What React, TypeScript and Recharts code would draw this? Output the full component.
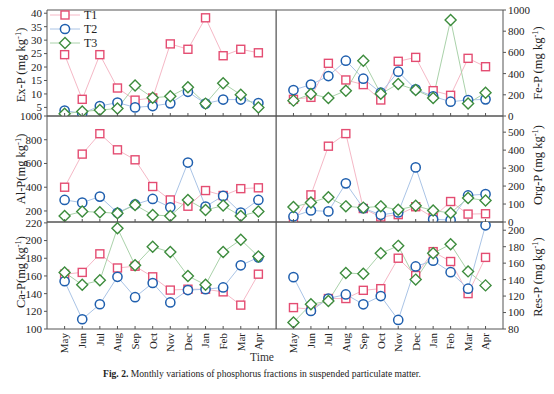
import React from 'react';
import { LineChart, Line, XAxis, YAxis, ReferenceArea } from 'recharts';

const months = ['May', 'Jun', 'Jul', 'Aug', 'Sep', 'Oct', 'Nov', 'Dec', 'Jan', 'Feb', 'Mar', 'Apr'];
const seriesNames = ['T1', 'T2', 'T3'];

const exP_T1 = [24.6, 8.0, 24.6, 12.2, 7.7, 8.5, 28.6, 26.6, 38.3, 24.2, 26.6, 25.3];
const exP_T2 = [3.8, 2.8, 5.5, 6.8, 5.0, 5.5, 6.5, 10.8, 6.4, 7.9, 7.9, 6.6];
const exP_T3 = [2.6, 3.5, 4.0, 4.6, 13.1, 8.6, 9.1, 12.5, 6.4, 14.0, 9.7, 5.0];

const feP_T1 = [157, 176, 497, 340, 296, 151, 516, 553, 239, 195, 544, 465];
const feP_T2 = [245, 296, 377, 522, 352, 220, 418, 252, 185, 135, 151, 157];
const feP_T3 = [145, 208, 170, 239, 522, 210, 302, 245, 170, 906, 119, 220];

const alP_T1 = [400, 679, 851, 715, 631, 406, 293, 240, 372, 330, 388, 395];
const alP_T2 = [293, 270, 321, 185, 255, 301, 231, 608, 237, 327, 186, 293];
const alP_T3 = [158, 195, 190, 180, 251, 166, 158, 293, 208, 245, 158, 196];

const orgP_T1 = [5, 151, 422, 492, 75, 28, 41, 85, 25, 114, 44, 46];
const orgP_T2 = [31, 64, 59, 215, 77, 40, 53, 304, 15, 11, 148, 155];
const orgP_T3 = [83, 109, 138, 87, 80, 87, 68, 90, 64, 50, 133, 120];

const caP_T1 = [162, 164, 185, 169, 171, 159, 144, 145, 145, 142, 127, 162];
const caP_T2 = [154, 111, 128, 159, 136, 152, 130, 144, 145, 147, 172, 181];
const caP_T3 = [164, 150, 155, 214, 172, 193, 187, 160, 150, 187, 201, 182];

const resP_T1 = [106, 104, 117, 117, 127, 129, 166, 145, 174, 162, 123, 167];
const resP_T2 = [143, 102, 117, 122, 110, 120, 91, 156, 163, 149, 129, 206];
const resP_T3 = [88, 110, 114, 148, 147, 172, 181, 140, 172, 183, 150, 133];

const markColor = ['#e44d72', '#1f5fae', '#3d8c3d'];
const lineColor = ['#f5b8c6', '#aac4e6', '#aad2aa'];
const FONT = '"Liberation Serif", "Times New Roman", serif';

const rowTop = [10, 116, 222];
const rowBottom = [116, 222, 329];
const PAD = 8;

const marker = (k: number, cx: number, cy: number, key: string) => {
  const c = markColor[k];
  if (k === 0) return <rect key={key} x={cx - 4} y={cy - 4} width={8} height={8} fill="#fff" stroke={c} strokeWidth={1.4} />;
  if (k === 1) return <circle key={key} cx={cx} cy={cy} r={4.6} fill="#fff" stroke={c} strokeWidth={1.5} />;
  return <path key={key} d={`M${cx},${cy - 5.5}L${cx + 5.5},${cy}L${cx},${cy + 5.5}L${cx - 5.5},${cy}Z`} fill="#fff" stroke={c} strokeWidth={1.4} />;
};

interface PanelProps {
  t1: number[];
  t2: number[];
  t3: number[];
  domain: [number, number];
  ticks: number[];
  side: 'left' | 'right';
  row: number;
}

const Panel = ({ t1, t2, t3, domain, ticks, side, row }: PanelProps) => {
  const data = months.map((m, i) => ({ i, t1: t1[i], t2: t2[i], t3: t3[i] }));
  const isLeft = side === 'left';
  const bottomPad = row === 2 ? 30 : 8;
  const plotH = rowBottom[row] - rowTop[row];
  const width = isLeft ? 280 : 278;
  const height = plotH + PAD + bottomPad;
  const plotBottom = PAD + plotH;

  // inward tick marks, month names only under the last row
  const xTick = (props: any) => {
    const { x, payload, index } = props;
    return (
      <g key={`xt-${index}`}>
        <line x1={x} x2={x} y1={plotBottom} y2={plotBottom - 3} stroke="#555" />
        {row === 2 && (
          <text x={x} y={plotBottom + 4} transform={`rotate(-90, ${x}, ${plotBottom + 4})`} textAnchor="end" dy="0.35em" fontSize={11} fill="#222">
            {months[payload.value]}
          </text>
        )}
      </g>
    );
  };

  return (
    <div style={{ position: 'absolute', left: isLeft ? 0 : 276, top: rowTop[row] - PAD, width, height }}>
      <LineChart width={width} height={height} data={data} margin={{ top: PAD, bottom: 0, left: 0, right: isLeft ? 4 : 0 }}>
        <XAxis dataKey="i" type="number" domain={[-1, 12]} ticks={[0, 1, 2, 3, 4, 5, 6, 7, 8, 9, 10, 11]} height={bottomPad} axisLine={false} tickLine={false} tick={xTick} interval={0} allowDataOverflow />
        <YAxis
          type="number"
          orientation={side}
          width={isLeft ? 47 : 51}
          domain={domain}
          ticks={ticks}
          allowDataOverflow
          interval={0}
          axisLine={false}
          tickSize={3}
          tickMargin={2}
          tickLine={{ stroke: '#555' }}
          tick={{ fontSize: 11, fill: '#222' }}
        />
        <ReferenceArea x1={-1} x2={12} y1={domain[0]} y2={domain[1]} fill="none" stroke="#555" strokeWidth={1} ifOverflow="visible" />
        {['t1', 't2', 't3'].map((key, k) => (
          <Line
            key={key}
            dataKey={key}
            stroke={lineColor[k]}
            strokeWidth={1}
            isAnimationActive={false}
            dot={(p: any) => marker(k, p.cx, p.cy, `${key}-${p.index}`)}
            activeDot={false}
          />
        ))}
      </LineChart>
    </div>
  );
};

const YTitle = ({ x, cy, name }: { x: number; cy: number; name: string }) => (
  <text x={x} y={cy} transform={`rotate(-90, ${x}, ${cy})`} textAnchor="middle" dy="0.35em" fontSize={12.5} fill="#222">
    {name}(mg kg<tspan dy={-4} fontSize={8.5}>-1</tspan>
    <tspan dy={4}>)</tspan>
  </text>
);

export default function App() {
  return (
    <div style={{ position: 'absolute', left: 0, top: 0, width: 554, height: 394, background: '#fff', fontFamily: FONT }}>
      <Panel t1={exP_T1} t2={exP_T2} t3={exP_T3} domain={[1.8, 41.2]} ticks={[5, 10, 15, 20, 25, 30, 35, 40]} side="left" row={0} />
      <Panel t1={alP_T1} t2={alP_T2} t3={alP_T3} domain={[107, 1000]} ticks={[200, 400, 600, 800, 1000]} side="left" row={1} />
      <Panel t1={caP_T1} t2={caP_T2} t3={caP_T3} domain={[100, 221]} ticks={[100, 120, 140, 160, 180, 200, 220]} side="left" row={2} />
      <Panel t1={feP_T1} t2={feP_T2} t3={feP_T3} domain={[0, 1000]} ticks={[0, 200, 400, 600, 800, 1000]} side="right" row={0} />
      <Panel t1={orgP_T1} t2={orgP_T2} t3={orgP_T3} domain={[0, 590]} ticks={[0, 100, 200, 300, 400, 500]} side="right" row={1} />
      <Panel t1={resP_T1} t2={resP_T2} t3={resP_T3} domain={[80, 210]} ticks={[80, 100, 120, 140, 160, 180, 200]} side="right" row={2} />
      <svg width={554} height={394} style={{ position: 'absolute', left: 0, top: 0, pointerEvents: 'none' }}>
        {seriesNames.map((s, k) => {
          const y = 15 + k * 14;
          return (
            <g key={s}>
              <line x1={50} x2={80} y1={y} y2={y} stroke={lineColor[k]} />
              {marker(k, 65, y, `lg-${s}`)}
              <text x={84} y={y} dy="0.35em" fontSize={12} fill="#222">{s}</text>
            </g>
          );
        })}
        <YTitle x={21} cy={65} name="Ex-P " />
        <YTitle x={21} cy={169} name="Al-P" />
        <YTitle x={21} cy={272} name="Ca-P" />
        <YTitle x={538} cy={63} name="Fe-P " />
        <YTitle x={538} cy={165} name="Org-P " />
        <YTitle x={538} cy={277} name="Res-P " />
        <text x={262} y={357} textAnchor="middle" dy="0.35em" fontSize={11.5} fill="#333">Time</text>
        <text x={262} y={374} textAnchor="middle" dy="0.35em" fontSize={9.6} fill="#222">
          <tspan fontWeight="bold">Fig. 2.</tspan>  Monthly variations of phosphorus fractions in suspended particulate matter.
        </text>
      </svg>
    </div>
  );
}
